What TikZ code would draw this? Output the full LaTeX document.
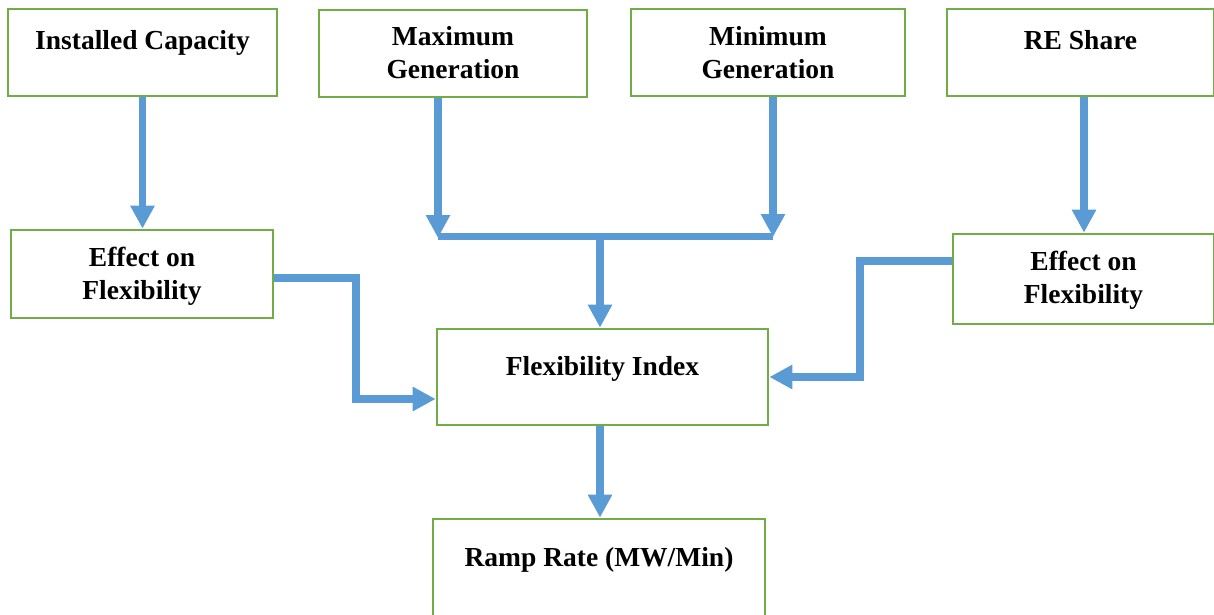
\documentclass[tikz,border=0pt]{standalone}
\usepackage{fontspec}
\setmainfont{Liberation Serif}
\usetikzlibrary{arrows.meta}
\definecolor{boxgreen}{HTML}{70AD47}
\definecolor{arrblue}{HTML}{5B9BD5}
\begin{document}
\begin{tikzpicture}[x=1pt,y=-1pt,
  box/.style={draw=boxgreen,line width=2.7pt,rectangle,inner sep=0pt},
  txt/.style={font=\bfseries\fontsize{27.5}{33}\selectfont,align=center,inner sep=0pt,anchor=base},
  conn/.style={draw=arrblue,line width=7.5pt},
  arr/.style={conn,-{Triangle[length=23pt,width=23pt]}}]
\useasboundingbox (0,0) rectangle (1214,615);
% boxes
\node[box,minimum width=269pt,minimum height=87pt] (ic) at (142.5,52.5) {};
\node[box,minimum width=268pt,minimum height=87pt] (maxg) at (453,53.5) {};
\node[box,minimum width=274pt,minimum height=87pt] (ming) at (768,52.5) {};
\node[box,minimum width=267pt,minimum height=87pt] (re) at (1080.5,52.5) {};
\node[box,minimum width=262pt,minimum height=88pt] (efl) at (142,274) {};
\node[box,minimum width=261pt,minimum height=90pt] (efr) at (1083.5,279) {};
\node[box,minimum width=331pt,minimum height=96pt] (fi) at (602.5,377) {};
\node[box,minimum width=332pt,minimum height=110pt] (rr) at (599,574) {};
% texts (base anchor = baseline of the last line)
\node[txt] (ict) at (142.5,50) {Installed Capacity};
\node[txt] (maxgt) at (453,79) {Maximum\\Generation};
\node[txt] (mingt) at (768,79) {Minimum\\Generation};
\node[txt] (ret) at (1080.5,50) {RE Share};
\node[txt] (eflt) at (142,299) {Effect on\\Flexibility};
\node[txt] (efrt) at (1083.5,303) {Effect on\\Flexibility};
\node[txt] (fit) at (602.5,375) {Flexibility Index};
\node[txt] (rrt) at (599,566) {Ramp Rate (MW/Min)};
% junction coordinates
\coordinate (jl) at (438,238);
\coordinate (jr) at (773,237);
\coordinate (jc) at (600,237);
% connectors
\draw[arr] (ic.south) -- (ic.south |- efl.north);
\draw[arr] (maxg.south -| jl) -- (jl);
\draw[arr] (ming.south -| jr) -- (jr);
\draw[conn] (438,236.5) -- (773,236.5);
\draw[arr] (jc) -- (jc |- fi.north);
\draw[arr] (efl.east |- 0,278) -- (356,278) -- (356,399) -- (fi.west |- 0,399);
\draw[arr] (efr.west |- 0,261) -- (860,261) -- (860,377) -- (fi.east |- 0,377);
\draw[arr] (fi.south -| 600,0) -- (rr.north -| 600,0);
\draw[arr] (re.south -| 1084,0) -- (efr.north -| 1084,0);
\end{tikzpicture}
\end{document}
